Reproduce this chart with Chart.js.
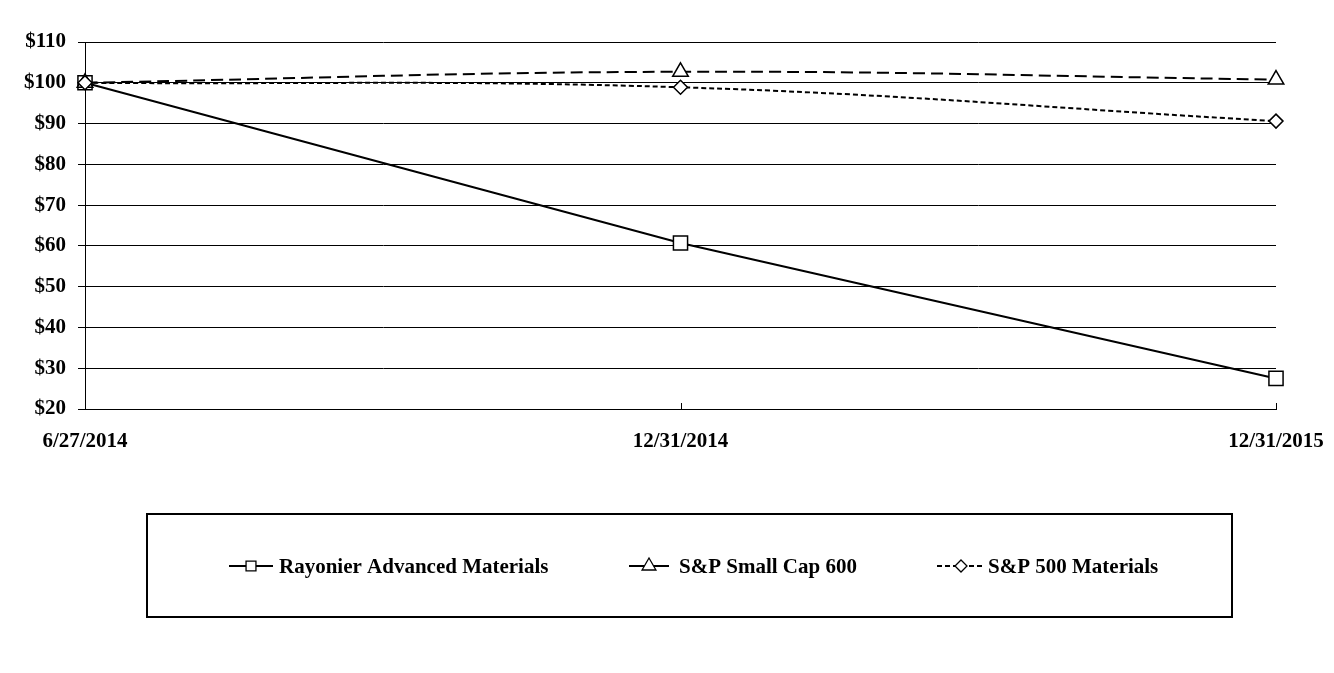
<!DOCTYPE html>
<html>
<head>
<meta charset="utf-8">
<script src="https://cdn.jsdelivr.net/npm/chart.js@4/dist/chart.umd.min.js"></script>
<style>
html,body{margin:0;padding:0;background:#fff;}
#wrap{width:1334px;height:673px;position:relative;}
</style>
</head>
<body>
<div id="wrap"><canvas id="c" width="1334" height="673"></canvas></div>
<script>
const categories = ['6/27/2014', '12/31/2014', '12/31/2015'];
const rayonier = [100, 60.7, 27.5];
const smallCap600 = [100, 102.7, 100.8];
const sp500Materials = [100, 98.9, 90.6];
const yTicks = [20, 30, 40, 50, 60, 70, 80, 90, 100, 110];

const FONT = '"Liberation Serif", "Times New Roman", serif';

const legendItems = [
  {ds: 0, x1: 229, x2: 273, mx: 251, tx: 279, dash: [], r: 7},
  {ds: 1, x1: 629, x2: 669, mx: 649, tx: 679, dash: [], r: 8},
  {ds: 2, x1: 937, x2: 985, mx: 961, tx: 988, dash: [5, 3], r: 6}
];

function drawMarker(ctx, style, x, y, r) {
  ctx.beginPath();
  if (style === 'rect') {
    const s = r * Math.SQRT1_2;
    ctx.rect(x - s, y - s, 2 * s, 2 * s);
  } else if (style === 'triangle') {
    ctx.moveTo(x, y - r);
    ctx.lineTo(x + r * Math.sin(Math.PI / 3), y + r * 0.5);
    ctx.lineTo(x - r * Math.sin(Math.PI / 3), y + r * 0.5);
    ctx.closePath();
  } else {
    ctx.moveTo(x, y - r); ctx.lineTo(x + r, y); ctx.lineTo(x, y + r); ctx.lineTo(x - r, y);
    ctx.closePath();
  }
  ctx.fillStyle = '#fff';
  ctx.fill();
  ctx.stroke();
}

const boxLegend = {
  id: 'boxLegend',
  afterDraw(chart) {
    const ctx = chart.ctx;
    ctx.save();
    ctx.strokeStyle = '#000';
    ctx.lineWidth = 2;
    ctx.setLineDash([]);
    ctx.strokeRect(147, 514, 1085, 103);
    const y = 566;
    legendItems.forEach(it => {
      const ds = chart.data.datasets[it.ds];
      ctx.strokeStyle = '#000';
      ctx.lineWidth = 2;
      ctx.setLineDash(it.dash);
      ctx.beginPath();
      ctx.moveTo(it.x1, y); ctx.lineTo(it.x2, y);
      ctx.stroke();
      ctx.setLineDash([]);
      ctx.lineWidth = 1.3;
      drawMarker(ctx, ds.pointStyle, it.mx, y, it.r);
      ctx.fillStyle = '#000';
      ctx.font = 'bold 21px ' + FONT;
      ctx.textBaseline = 'middle';
      ctx.textAlign = 'left';
      ctx.fillText(ds.label, it.tx, y + 2);
    });
    ctx.restore();
  }
};

const innerXTicks = {
  id: 'innerXTicks',
  afterDatasetsDraw(chart) {
    const xs = chart.scales.x, ctx = chart.ctx;
    const bottom = chart.chartArea.bottom;
    ctx.save();
    ctx.strokeStyle = '#000';
    ctx.lineWidth = 1;
    xs.ticks.forEach((t, i) => {
      const px = Math.round(xs.getPixelForTick(i)) + 0.5;
      ctx.beginPath();
      ctx.moveTo(px, bottom);
      ctx.lineTo(px, bottom - 6);
      ctx.stroke();
    });
    ctx.restore();
  }
};

new Chart(document.getElementById('c'), {
  type: 'line',
  data: {
    labels: categories,
    datasets: [
      {label: 'Rayonier Advanced Materials', data: rayonier, borderColor: '#000', borderWidth: 2,
       pointStyle: 'rect', pointRadius: 10, pointBackgroundColor: '#fff', pointBorderColor: '#000',
       pointBorderWidth: 1.5, tension: 0, order: 2},
      {label: 'S&P Small Cap 600', data: smallCap600, borderColor: '#000', borderWidth: 2,
       borderDash: [12, 6], pointStyle: 'triangle', pointRadius: 9, pointBackgroundColor: '#fff',
       pointBorderColor: '#000', pointBorderWidth: 1.5, tension: 0.4, order: 1},
      {label: 'S&P 500 Materials', data: sp500Materials, borderColor: '#000', borderWidth: 2,
       borderDash: [5, 3], pointStyle: 'rectRot', pointRadius: 7, pointBackgroundColor: '#fff',
       pointBorderColor: '#000', pointBorderWidth: 1.5, tension: 0.4, order: 0}
    ]
  },
  options: {
    responsive: false,
    animation: false,
    layout: {padding: {left: 0, right: 58, top: 42, bottom: 214}},
    plugins: {legend: {display: false}, tooltip: {enabled: false}, title: {display: false}},
    scales: {
      x: {
        offset: false,
        grid: {display: true, drawOnChartArea: false, drawTicks: false},
        border: {display: true, color: '#000', width: 1},
        ticks: {color: '#000', font: {family: FONT, size: 21, weight: 'bold'}, padding: 20,
                maxRotation: 0, autoSkip: false},
        afterFit(s) { s.height = 50; s.paddingLeft = 0; s.paddingRight = 0; }
      },
      y: {
        min: 20, max: 110,
        afterBuildTicks(s) { s.ticks = yTicks.map(v => ({value: v})); },
        grid: {color: '#000', lineWidth: 1, tickLength: 7, drawTicks: true},
        border: {display: true, color: '#000', width: 1},
        ticks: {color: '#000', font: {family: FONT, size: 21, weight: 'bold'}, padding: 12,
                callback: v => '$' + v},
        afterFit(s) { s.width = 85; s.paddingTop = 0; s.paddingBottom = 0; }
      }
    }
  },
  plugins: [innerXTicks, boxLegend]
});
</script>
</body>
</html>
